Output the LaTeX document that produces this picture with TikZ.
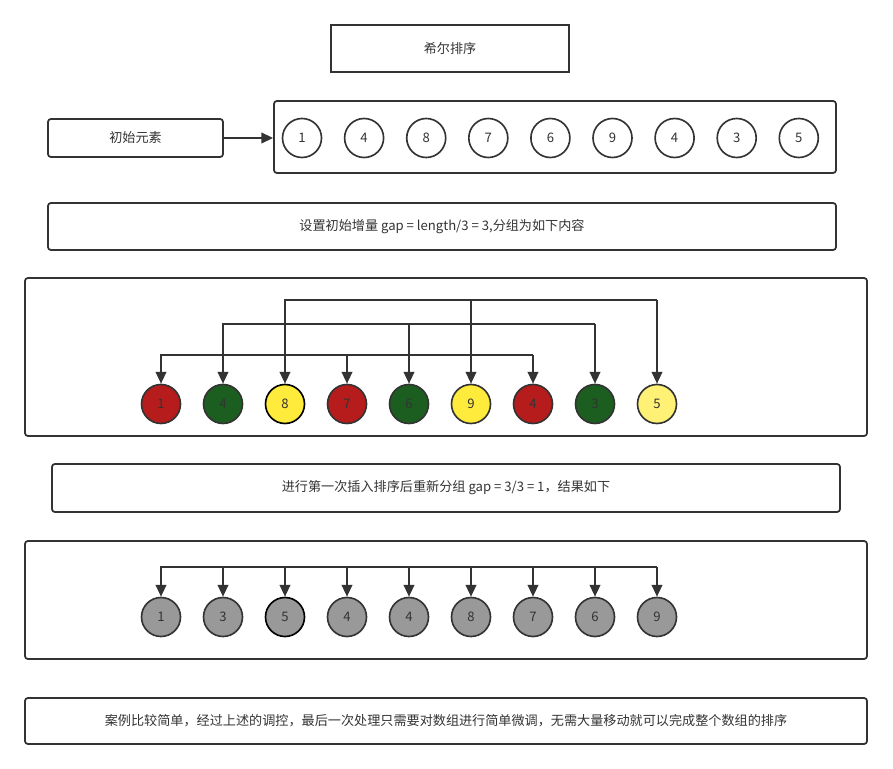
\documentclass[tikz,border=0pt]{standalone}
\usepackage{fontspec}
\setmainfont{Noto Sans CJK SC}
\usetikzlibrary{arrows.meta,positioning}
\definecolor{shellline}{HTML}{333333}
\definecolor{grpred}{HTML}{B71C1C}
\definecolor{grpgreen}{HTML}{1B5E20}
\definecolor{grpyellow}{HTML}{FFEB3B}
\definecolor{grplight}{HTML}{FFF176}
\definecolor{sortgray}{HTML}{999999}

\begin{document}
\begin{tikzpicture}[x=0.03cm, y=-0.03cm,
  font=\fontsize{11.2}{13}\selectfont, text=shellline,
  box/.style={draw=shellline, line width=1.5pt, rounded corners=2.5pt, inner sep=0pt},
  elem/.style={circle, draw=shellline, line width=1.4pt, minimum size=1.17cm, inner sep=0pt},
  link/.style={draw=shellline, line width=1.6pt, -{Triangle[length=10pt, width=9pt]}}]
  \useasboundingbox (0,0) rectangle (893,769);

  % ── Title and initial array ──
  \node[box, rounded corners=0pt, minimum width=7.14cm, minimum height=1.41cm] (title) at (450,48.5) {希尔排序};
  \node[box, minimum width=5.25cm, minimum height=1.14cm] (init) at (135.5,138) {初始元素};
  \node[box, minimum width=16.86cm, minimum height=2.16cm] (row0) at (555,137) {};
  \draw[link] (init.east) -- (init.east -| row0.west);
  \foreach \v [count=\i] in {1,4,8,7,6,9,4,3,5}
    \node[elem, fill=white] (t\i) at ({302+62.1*(\i-1)},138) {\v};

  % ── First grouping, gap = 3 ──
  \node[box, minimum width=23.64cm, minimum height=1.41cm] (step1) at (442,226.5)
    {设置初始增量 gap = length/3 = 3,分组为如下内容};
  \node[box, minimum width=25.26cm, minimum height=4.74cm] (grp) at (446,357) {};
  \foreach \v/\c/\e [count=\i] in {1/grpred/shellline, 4/grpgreen/shellline, 8/grpyellow/black,
      7/grpred/shellline, 6/grpgreen/shellline, 9/grpyellow/shellline,
      4/grpred/shellline, 3/grpgreen/shellline, 5/grplight/shellline}
    \node[elem, fill=\c, draw=\e] (a\i) at ({161+62*(\i-1)},404) {\v};
  \coordinate (bar1) at (a7 |- 0,355);
  \coordinate (bar2) at (a8 |- 0,324);
  \coordinate (bar3) at (a9 |- 0,300);
  \foreach \i in {1,4,7} \draw[link] (bar1) -| (a\i);
  \foreach \i in {2,5,8} \draw[link] (bar2) -| (a\i);
  \foreach \i in {3,6,9} \draw[link] (bar3) -| (a\i);

  % ── Second grouping, gap = 1 ──
  \node[box, minimum width=23.64cm, minimum height=1.44cm] (step2) at (446,488)
    {进行第一次插入排序后重新分组 gap = 3/3 = 1，结果如下};
  \node[box, minimum width=25.26cm, minimum height=3.54cm] (res) at (446,600) {};
  \foreach \v/\e [count=\i] in {1/shellline, 3/shellline, 5/black, 4/shellline, 4/shellline,
      8/shellline, 7/shellline, 6/shellline, 9/shellline}
    \node[elem, fill=sortgray, draw=\e] (b\i) at ({161+62*(\i-1)},617) {\v};
  \coordinate (bar) at (b9 |- 0,567);
  \foreach \i in {1,...,9} \draw[link] (bar) -| (b\i);

  % ── Closing note ──
  \node[box, minimum width=25.26cm, minimum height=1.38cm] (note) at (446,721)
    {案例比较简单，经过上述的调控，最后一次处理只需要对数组进行简单微调，无需大量移动就可以完成整个数组的排序};
\end{tikzpicture}
\end{document}
